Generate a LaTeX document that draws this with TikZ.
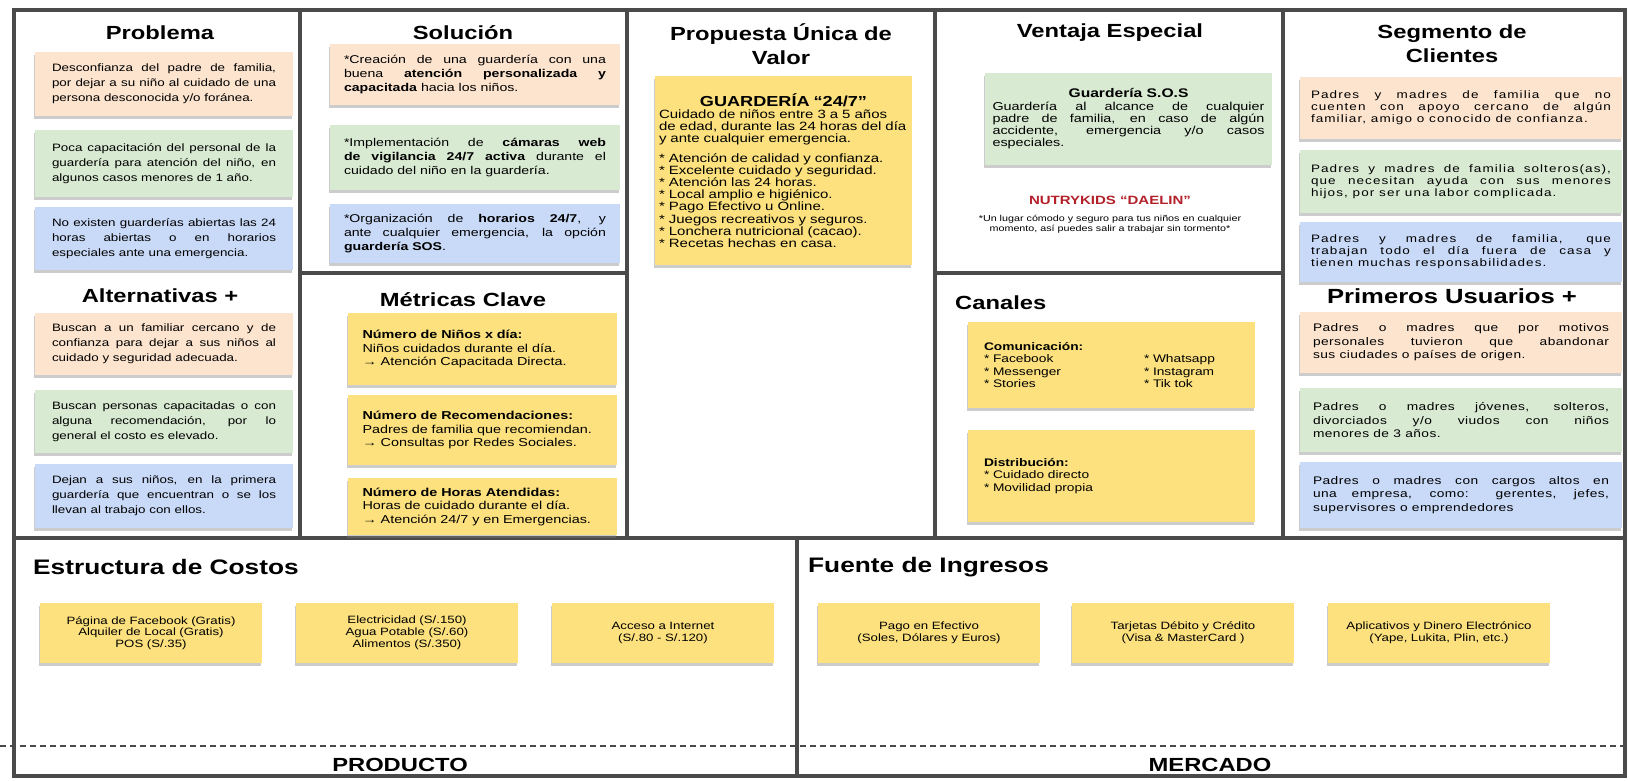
\documentclass[tikz,border=0pt]{standalone}
\usepackage{fontspec}
\setmainfont{Liberation Sans}[FakeStretch=1.25]
\usetikzlibrary{shadows}
\definecolor{framec}{HTML}{4A4A4A}
\definecolor{peach}{HTML}{FCE4CF}
\definecolor{mint}{HTML}{D9EAD3}
\definecolor{sky}{HTML}{C9DAF8}
\definecolor{sticky}{HTML}{FCE17E}
\definecolor{nutry}{HTML}{B3202A}
\hyphenpenalty=10000
\exhyphenpenalty=10000
\tolerance=10000
\emergencystretch=20pt
\begin{document}
\begin{tikzpicture}[x=1pt,y=-1pt,
  frame/.style={draw=framec, line width=4pt},
  note/.style={inner sep=0pt, align=justify,
    drop shadow={shadow xshift=-1.5pt, shadow yshift=-2.5pt, opacity=0.4},
    font=\fontsize{10.7}{15}\selectfont},
  ttl/.style={font=\fontsize{19}{24}\selectfont\bfseries, inner sep=0pt, align=center},
  btl/.style={font=\fontsize{21}{25}\selectfont\bfseries, inner sep=0pt, anchor=west},
  pnote/.style={note, minimum width=258pt, text width=224pt},
  snote/.style={note, minimum width=290pt, text width=262pt, font=\fontsize{11.3}{14}\selectfont},
  mnote/.style={note, fill=sticky, align=left, minimum width=269pt, text width=240pt,
    font=\fontsize{11.5}{13.5}\selectfont},
  costnote/.style={note, fill=sticky, align=center, minimum width=222pt, minimum height=60pt,
    text width=214pt, font=\fontsize{10.6}{11.8}\selectfont},
  segnote/.style={note, minimum width=322pt, text width=300pt,
    font=\fontsize{10.8}{12}\selectfont\addfontfeature{LetterSpace=10}},
  usrnote/.style={note, minimum width=322pt, text width=296pt,
    font=\fontsize{11}{13.5}\selectfont\addfontfeature{LetterSpace=4}},
]
\useasboundingbox (0,0) rectangle (1630,780);
\fill[white] (0,0) rectangle (1630,780);

% ---------- frame ----------
\draw[frame] (14,10) rectangle (1625,776);
\draw[frame] (300,10) -- (300,538);
\draw[frame] (627,10) -- (627,538);
\draw[frame] (935,10) -- (935,538);
\draw[frame] (1283,10) -- (1283,538);
\draw[frame] (14,538) -- (1625,538);
\draw[frame] (300,273) -- (627,273);
\draw[frame] (935,273) -- (1283,273);
\draw[frame] (797,538) -- (797,776);
\draw[line width=1.2pt, draw=framec, dash pattern=on 6pt off 4pt] (0,746) -- (1630,746);

% ---------- Problema ----------
\node[ttl] (tprob) at (160,33) {Problema};
\node[pnote, fill=peach, minimum height=64pt] (p1) at (164,84)
  {Desconfianza del padre de familia,\linebreak por dejar a su niño al cuidado de una\linebreak persona desconocida y/o foránea.};
\node[pnote, fill=mint, minimum height=67pt] (p2) at (164,163.5)
  {Poca capacitación del personal de la\linebreak guardería para atención del niño, en\linebreak algunos casos menores de 1 año.};
\node[pnote, fill=sky, minimum height=63pt] (p3) at (164,238.5)
  {No existen guarderías abiertas las 24\linebreak horas abiertas o en horarios\linebreak especiales ante una emergencia.};

\node[ttl] (talt) at (160,296) {Alternativas +};
\node[pnote, fill=peach, minimum height=62pt] (a1) at (164,344)
  {Buscan a un familiar cercano y de\linebreak confianza para dejar a sus niños al\linebreak cuidado y seguridad adecuada.};
\node[pnote, fill=mint, minimum height=63pt] (a2) at (164,421.5)
  {Buscan personas capacitadas o con\linebreak alguna recomendación, por lo\linebreak general el costo es elevado.};
\node[pnote, fill=sky, minimum height=64pt] (a3) at (164,496)
  {Dejan a sus niños, en la primera\linebreak guardería que encuentran o se los\linebreak llevan al trabajo con ellos.};

% ---------- Solucion ----------
\node[ttl] (tsol) at (463,33) {Solución};
\node[snote, fill=peach, minimum height=61pt] (s1) at (475,74.5)
  {*Creación de una guardería con una\linebreak buena \textbf{atención personalizada y}\linebreak \textbf{capacitada} hacia los niños.};
\node[snote, fill=mint, minimum height=65pt] (s2) at (475,157.5)
  {*Implementación de \textbf{cámaras web}\linebreak \textbf{de vigilancia 24/7 activa} durante el\linebreak cuidado del niño en la guardería.};
\node[snote, fill=sky, minimum height=59pt] (s3) at (475,233.5)
  {*Organización de \textbf{horarios 24/7}, y\linebreak ante cualquier emergencia, la opción\linebreak \textbf{guardería SOS}.};

% ---------- Metricas ----------
\node[ttl] (tmet) at (463,300) {Métricas Clave};
\node[mnote, minimum height=72pt] (m1) at (482.5,349)
  {\textbf{Número de Niños x día:}\\Niños cuidados durante el día.\\→ Atención Capacitada Directa.};
\node[mnote, minimum height=70pt] (m2) at (482.5,430)
  {\textbf{Número de Recomendaciones:}\\Padres de familia que recomiendan.\\→ Consultas por Redes Sociales.};
\node[mnote, minimum height=57pt] (m3) at (482.5,506.5)
  {\textbf{Número de Horas Atendidas:}\\Horas de cuidado durante el día.\\→ Atención 24/7 y en Emergencias.};

% ---------- Propuesta ----------
\node[ttl] (tprop) at (781,44) {Propuesta Única de\\Valor};
\node[note, fill=sticky, align=left, minimum width=257pt, minimum height=189pt, text width=249pt,
  font=\fontsize{12}{12.2}\selectfont] (uvp) at (783.5,170.5)
  {{\centering\fontsize{14.5}{17}\selectfont\bfseries GUARDERÍA “24/7”\par}
   Cuidado de niños entre 3 a 5 años\\de edad, durante las 24 horas del día\\y ante cualquier emergencia.\\[7pt]
   {}* Atención de calidad y confianza.\\{}
   * Excelente cuidado y seguridad.\\{}
   * Atención las 24 horas.\\{}
   * Local amplio e higiénico.\\{}
   * Pago Efectivo u Online.\\{}
   * Juegos recreativos y seguros.\\{}
   * Lonchera nutricional (cacao).\\{}
   * Recetas hechas en casa.\\[28pt]};

% ---------- Ventaja ----------
\node[ttl] (tven) at (1110,33) {Ventaja Especial};
\node[note, fill=mint, minimum width=287pt, minimum height=92pt, text width=272pt,
  font=\fontsize{11.5}{12.2}\selectfont] (sos) at (1128.5,119)
  {{\centering\fontsize{12.5}{14}\selectfont\bfseries Guardería S.O.S\par}
   Guardería al alcance de cualquier\linebreak padre de familia, en caso de algún\linebreak accidente, emergencia y/o casos\linebreak especiales.};
\node[font=\fontsize{12}{14}\selectfont\bfseries, text=nutry, inner sep=0pt] (nutry) at (1110,200) {NUTRYKIDS “DAELIN”};
\node[font=\fontsize{8.6}{10}\selectfont, align=center, inner sep=0pt] (lema) at (1110,224)
  {*Un lugar cómodo y seguro para tus niños en cualquier\\momento, así puedes salir a trabajar sin tormento*};

% ---------- Canales ----------
\node[ttl, anchor=west] (tcan) at (955,303) {Canales};
\node[note, fill=sticky, align=left, minimum width=287pt, minimum height=86pt, text width=255pt,
  font=\fontsize{11}{12.2}\selectfont] (com) at (1111.5,365)
  {\textbf{Comunicación:}\\
   \makebox[160pt][l]{* Facebook}* Whatsapp\\
   \makebox[160pt][l]{* Messenger}* Instagram\\
   \makebox[160pt][l]{* Stories}* Tik tok\\[18pt]};
\node[note, fill=sticky, align=left, minimum width=287pt, minimum height=92pt, text width=255pt,
  font=\fontsize{11}{12.2}\selectfont] (dis) at (1111.5,476)
  {\textbf{Distribución:}\\{}* Cuidado directo\\{}* Movilidad propia};

% ---------- Segmento ----------
\node[ttl] (tseg) at (1452,44) {Segmento de\\Clientes};
\node[segnote, fill=peach, minimum height=62pt] (g1) at (1461,108)
  {Padres y madres de familia que no\linebreak cuenten con apoyo cercano de algún\linebreak familiar, amigo o conocido de confianza.};
\node[segnote, fill=mint, minimum height=63pt] (g2) at (1461,181.5)
  {Padres y madres de familia solteros(as),\linebreak que necesitan ayuda con sus menores\linebreak hijos, por ser una labor complicada.};
\node[segnote, fill=sky, minimum height=60pt] (g3) at (1461,252)
  {Padres y madres de familia, que\linebreak trabajan todo el día fuera de casa y\linebreak tienen muchas responsabilidades.};

\node[ttl, font=\fontsize{20.5}{24}\selectfont\bfseries] (tusr) at (1452,296) {Primeros Usuarios +};
\node[usrnote, fill=peach, minimum height=61pt] (u1) at (1461,342.5)
  {Padres o madres que por motivos\linebreak personales tuvieron que abandonar\linebreak sus ciudades o países de origen.};
\node[usrnote, fill=mint, minimum height=64pt] (u2) at (1461,420)
  {Padres o madres jóvenes, solteros,\linebreak divorciados y/o viudos con niños\linebreak menores de 3 años.};
\node[usrnote, fill=sky, minimum height=66pt] (u3) at (1461,495)
  {Padres o madres con cargos altos en\linebreak una empresa, como: gerentes, jefes,\linebreak supervisores o emprendedores};

% ---------- Costos ----------
\node[btl] (tcost) at (33,567) {Estructura de Costos};
\node[costnote] (c1) at (151,633) {Página de Facebook (Gratis)\\Alquiler de Local (Gratis)\\POS (S/.35)};
\node[costnote] (c2) at (407,633) {Electricidad (S/.150)\\Agua Potable (S/.60)\\Alimentos (S/.350)};
\node[costnote] (c3) at (663,633) {Acceso a Internet\\(S/.80 - S/.120)};

% ---------- Ingresos ----------
\node[btl] (ting) at (808,567) {Fuente de Ingresos};
\node[costnote] (i1) at (929,633) {Pago en Efectivo\\(Soles, Dólares y Euros)};
\node[costnote] (i2) at (1183,633) {Tarjetas Débito y Crédito\\(Visa \& MasterCard )};
\node[costnote] (i3) at (1439,633) {Aplicativos y Dinero Electrónico\\(Yape, Lukita, Plin, etc.)};

% ---------- footer ----------
\node[font=\fontsize{19}{22}\selectfont\bfseries, inner sep=0pt] (prod) at (400,765) {PRODUCTO};
\node[font=\fontsize{19}{22}\selectfont\bfseries, inner sep=0pt] (merc) at (1210,765) {MERCADO};
\end{tikzpicture}
\end{document}
